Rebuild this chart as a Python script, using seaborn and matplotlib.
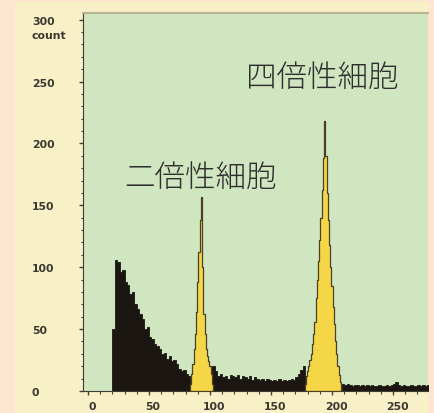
import numpy as np
import pandas as pd
import matplotlib
matplotlib.use("Agg")
import matplotlib.pyplot as plt
import matplotlib.transforms as mtransforms
from matplotlib.ticker import MultipleLocator
import seaborn as sns

# ---------------- data ----------------
# background / debris histogram (bin width 2 channels, centres 21..283)
debris_counts = [
    50, 106, 104, 96, 98, 88, 86, 78, 80, 70, 66, 62, 58, 50, 52, 44,
    42, 38, 36, 34, 30, 31, 26, 28, 24, 25, 22, 18, 16, 17, 14, 12,
    0, 0, 0, 0, 0, 0, 0, 0, 0,
    20, 16, 12, 14, 11, 12, 10, 13, 12, 11, 13, 10, 12, 11, 10, 12,
    9, 11, 10, 9, 10, 8, 10, 9, 8, 9, 8, 10, 8, 9, 8, 9, 10, 9, 11,
    14, 17, 20,
    0, 0, 0, 0, 0, 0, 0, 0, 0, 0, 0, 0, 0, 0, 0,
    6, 5, 6, 5, 4, 5, 5, 4, 5, 4, 5, 4, 5, 4, 4, 5, 4, 4, 5, 4, 5,
    6, 7, 5, 4, 5, 4, 4, 5, 4, 4, 5, 4, 5, 4, 5, 4, 4,
]
debris_channels = list(range(21, 285, 2))

# diploid G1 peak (bin width 1 channel)
diploid_channels = list(range(84, 103))
diploid_counts = [6, 14, 22, 34, 46, 64, 88, 112, 138, 157, 100, 62, 46,
                  34, 28, 24, 20, 14, 6]

# tetraploid peak (bin width 1 channel)
tetraploid_channels = list(range(178, 208))
tetraploid_counts = [6, 12, 16, 20, 25, 30, 38, 46, 56, 75, 90, 105, 122,
                     140, 162, 188, 218, 190, 160, 138, 118, 100, 85, 68,
                     54, 40, 30, 20, 13, 7]

x_ticks = [0, 50, 100, 150, 200, 250]
y_ticks = [0, 50, 100, 150, 200, 250, 300]
label_diploid = "二倍性細胞"
label_tetraploid = "四倍性細胞"
y_unit = "count"

# ---------------- style ----------------
sns.set_style("ticks")
plt.rcParams["font.family"] = ["DejaVu Sans"]

PEACH = "#FDE6D1"
CREAM = "#F8F0C6"
GREEN = "#CFE6C0"
BLACK = "#1b1612"
YELLOW = "#F5D647"
OUTLINE = "#4d3f24"
TXT = "#3a3830"

DPI = 100
fig = plt.figure(figsize=(4.34, 4.14), dpi=DPI)
fig.patch.set_facecolor(PEACH)
# cream panel behind the chart
panel = fig.add_axes([15 / 434, 0, (428 - 15) / 434, 1 - 3 / 414])
panel.set_facecolor(CREAM)
panel.set_xticks([]); panel.set_yticks([])
for s in panel.spines.values():
    s.set_visible(False)

ax = fig.add_axes([83 / 434, 22 / 414, (428 - 83) / 434, (392 - 14) / 414])
ax.set_facecolor(GREEN)

df_debris = pd.DataFrame({"channel": debris_channels, "count": debris_counts})
df_dip = pd.DataFrame({"channel": diploid_channels, "count": diploid_counts})
df_tet = pd.DataFrame({"channel": tetraploid_channels, "count": tetraploid_counts})

sns.histplot(data=df_debris, x="channel", weights="count", binwidth=2,
             binrange=(20, 284), element="step", fill=True, color=BLACK,
             alpha=1, linewidth=0.6, edgecolor=BLACK, ax=ax, zorder=2)
for d in (df_dip, df_tet):
    lo, hi = d["channel"].min() - 0.5, d["channel"].max() + 0.5
    sns.histplot(data=d, x="channel", weights="count", binwidth=1,
                 binrange=(lo, hi), element="step", fill=True,
                 color=YELLOW, alpha=1, edgecolor=OUTLINE, linewidth=0.9,
                 ax=ax, zorder=3)

ax.set_xlim(-4.1, 278.7)
ax.set_ylim(0, 305.4)
ax.set_xlabel(""); ax.set_ylabel("")
ax.set_xticks(x_ticks)
ax.set_yticks(y_ticks)
ax.xaxis.set_minor_locator(MultipleLocator(10))
ax.yaxis.set_minor_locator(MultipleLocator(10))
TICK_LEN = 3.0  # points
ax.tick_params(axis="both", which="major", length=TICK_LEN, width=1,
               color="#444036", labelsize=7.8, labelcolor=TXT)
ax.tick_params(axis="both", which="minor", length=1.8, width=0.8,
               color="#444036")
# y labels left-aligned at x = 32 px
ypad_px = 83 - 32 - TICK_LEN * DPI / 72
ax.tick_params(axis="y", which="major", pad=ypad_px * 72 / DPI)
ax.tick_params(axis="x", which="major", pad=4)
for lab in ax.get_yticklabels():
    lab.set_fontweight("bold")
    lab.set_horizontalalignment("left")
shift = mtransforms.ScaledTranslation(4 / DPI, 0, fig.dpi_scale_trans)
for lab in ax.get_xticklabels():
    lab.set_fontweight("bold")
    lab.set_transform(lab.get_transform() + shift)

ax.spines["right"].set_visible(False)
ax.spines["top"].set_color("#b9b494")
ax.spines["top"].set_linewidth(1.5)
ax.spines["left"].set_color("#3f3b30")
ax.spines["bottom"].set_color("#3f3b30")

ax.annotate(y_unit, xy=(0, 300), xycoords=("axes fraction", "data"),
            xytext=(-(83 - 32) * 72 / DPI, -15.5 * 72 / DPI),
            textcoords="offset points", ha="left", va="center",
            fontsize=7.8, fontweight="bold", color=TXT)

cjk = ["Noto Sans CJK JP", "DejaVu Sans"]
ax.text(92.6, 173, label_diploid, ha="center", va="center", fontsize=22,
        family=cjk, fontweight="light", color="#2e2e2e", zorder=5)
ax.text(191.8, 254, label_tetraploid, ha="center", va="center", fontsize=22,
        family=cjk, fontweight="light", color="#2e2e2e", zorder=5)

fig.savefig("out.png", dpi=DPI, facecolor=fig.get_facecolor())
